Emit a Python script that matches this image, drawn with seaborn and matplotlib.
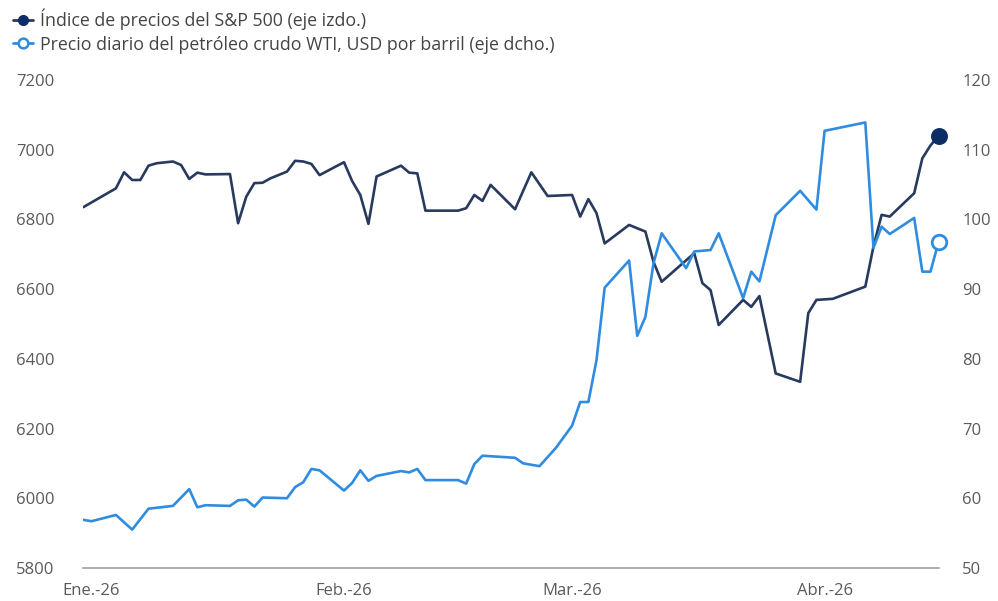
import pandas as pd
import seaborn as sns
import matplotlib.pyplot as plt
from matplotlib.lines import Line2D

# S&P 500 (eje izquierdo)
sp_fechas = [
    "2025-12-31", "2026-01-04", "2026-01-05", "2026-01-06", "2026-01-07", "2026-01-08",
    "2026-01-09", "2026-01-11", "2026-01-12", "2026-01-13", "2026-01-14", "2026-01-15",
    "2026-01-18", "2026-01-19", "2026-01-20", "2026-01-21", "2026-01-22", "2026-01-23",
    "2026-01-25", "2026-01-26", "2026-01-27", "2026-01-28", "2026-01-29", "2026-02-01",
    "2026-02-02", "2026-02-03", "2026-02-04", "2026-02-05", "2026-02-08", "2026-02-09",
    "2026-02-10", "2026-02-11", "2026-02-15", "2026-02-16", "2026-02-17", "2026-02-18",
    "2026-02-19", "2026-02-22", "2026-02-24", "2026-02-26", "2026-03-01", "2026-03-02",
    "2026-03-03", "2026-03-04", "2026-03-05", "2026-03-08", "2026-03-10", "2026-03-11",
    "2026-03-12", "2026-03-16", "2026-03-17", "2026-03-18", "2026-03-19", "2026-03-22",
    "2026-03-23", "2026-03-24", "2026-03-26", "2026-03-29", "2026-03-30", "2026-03-31",
    "2026-04-02", "2026-04-06", "2026-04-07", "2026-04-08", "2026-04-09", "2026-04-12",
    "2026-04-13", "2026-04-14", "2026-04-15",
]
sp_valores = [
    6835, 6889, 6935, 6913, 6913, 6954,
    6961, 6966, 6956, 6916, 6934, 6929,
    6930, 6789, 6865, 6904, 6905, 6918,
    6937, 6968, 6966, 6959, 6927, 6964,
    6910, 6870, 6787, 6923, 6954, 6934,
    6932, 6825, 6825, 6832, 6870, 6853,
    6899, 6829, 6935, 6867, 6870, 6808,
    6858, 6818, 6731, 6784, 6765, 6678,
    6621, 6703, 6617, 6597, 6497, 6569,
    6549, 6580, 6358, 6334, 6531, 6569,
    6572, 6607, 6722, 6813, 6808, 6875,
    6975, 7012, 7040,
]

# petróleo WTI (eje derecho)
wti_fechas = [
    "2025-12-31", "2026-01-01", "2026-01-04", "2026-01-06", "2026-01-08", "2026-01-11",
    "2026-01-13", "2026-01-14", "2026-01-15", "2026-01-18", "2026-01-19", "2026-01-20",
    "2026-01-21", "2026-01-22", "2026-01-25", "2026-01-26", "2026-01-27", "2026-01-28",
    "2026-01-29", "2026-02-01", "2026-02-02", "2026-02-03", "2026-02-04", "2026-02-05",
    "2026-02-08", "2026-02-09", "2026-02-10", "2026-02-11", "2026-02-15", "2026-02-16",
    "2026-02-17", "2026-02-18", "2026-02-22", "2026-02-23", "2026-02-25", "2026-02-27",
    "2026-03-01", "2026-03-02", "2026-03-03", "2026-03-04", "2026-03-05", "2026-03-08",
    "2026-03-09", "2026-03-10", "2026-03-11", "2026-03-12", "2026-03-15", "2026-03-16",
    "2026-03-18", "2026-03-19", "2026-03-22", "2026-03-23", "2026-03-24", "2026-03-26",
    "2026-03-29", "2026-03-31", "2026-04-01", "2026-04-06", "2026-04-07", "2026-04-08",
    "2026-04-09", "2026-04-12", "2026-04-13", "2026-04-14", "2026-04-15",
]
wti_valores = [
    56.9, 56.7, 57.6, 55.5, 58.5, 58.9,
    61.3, 58.7, 59.0, 58.9, 59.7, 59.8,
    58.8, 60.1, 60.0, 61.6, 62.3, 64.2,
    64.0, 61.1, 62.2, 64.0, 62.5, 63.2,
    63.9, 63.7, 64.2, 62.6, 62.6, 62.1,
    64.9, 66.1, 65.8, 65.0, 64.6, 67.2,
    70.4, 73.8, 73.8, 79.8, 90.2, 94.1,
    83.3, 86.0, 93.7, 98.0, 93.0, 95.4,
    95.6, 98.0, 88.7, 92.5, 91.1, 100.6,
    104.1, 101.4, 112.7, 113.9, 95.9, 98.95,
    97.9, 100.2, 92.5, 92.5, 96.8,
]

meses = ["2026-01-01", "2026-02-01", "2026-03-01", "2026-04-01"]
etiquetas_meses = ["Ene.-26", "Feb.-26", "Mar.-26", "Abr.-26"]

nombre_sp = "Índice de precios del S&P 500 (eje izdo.)"
nombre_wti = "Precio diario del petróleo crudo WTI, USD por barril (eje dcho.)"

color_sp = "#283a5d"
color_sp_punto = "#0c2d66"
color_wti = "#2f8ce0"
gris = "#5a5a5a"

sns.set_style("white")
plt.rcParams["font.family"] = ["Open Sans", "DejaVu Sans"]
plt.rcParams["font.size"] = 12

df_sp = pd.DataFrame({"fecha": pd.to_datetime(sp_fechas), "valor": sp_valores})
df_wti = pd.DataFrame({"fecha": pd.to_datetime(wti_fechas), "valor": wti_valores})

fig = plt.figure(figsize=(9.98, 6.01), dpi=100)
ax = fig.add_axes([0.0835, 0.055, 0.857, 0.812])
ax2 = ax.twinx()

sns.lineplot(data=df_sp, x="fecha", y="valor", ax=ax, color=color_sp, linewidth=1.9)
sns.lineplot(data=df_wti, x="fecha", y="valor", ax=ax2, color=color_wti, linewidth=1.9)

# puntos al final de cada serie
ax.scatter(df_sp["fecha"].iloc[-1], df_sp["valor"].iloc[-1], s=125,
           color=color_sp_punto, zorder=5, clip_on=False)
ax2.scatter(df_wti["fecha"].iloc[-1], df_wti["valor"].iloc[-1], s=110,
            facecolor="white", edgecolor=color_wti, linewidth=2, zorder=5, clip_on=False)

ax.set_xlim(pd.Timestamp("2025-12-31"), pd.Timestamp("2026-04-15"))
ax.set_ylim(5800, 7200)
ax2.set_ylim(50, 120)
ax.set_yticks(range(5800, 7201, 200))
ax2.set_yticks(range(50, 121, 10))
ax.set_xticks(pd.to_datetime(meses))
ax.set_xticklabels(etiquetas_meses)

ax.set_xlabel("")
ax.set_ylabel("")
ax2.set_ylabel("")

for a in (ax, ax2):
    for lado in ("top", "left", "right", "bottom"):
        a.spines[lado].set_visible(False)
ax.spines["bottom"].set_visible(True)
ax.spines["bottom"].set_color("#a0a0a0")
ax.spines["bottom"].set_linewidth(1.2)

ax.tick_params(axis="x", length=0, pad=11, colors=gris, labelsize=12)
ax.tick_params(axis="y", length=0, pad=21, colors=gris, labelsize=12)
ax2.tick_params(axis="y", length=0, pad=17, colors=gris, labelsize=12)
ax.grid(False)
ax2.grid(False)

handles = [
    Line2D([0], [0], color=color_sp, lw=2, marker="o", markersize=7,
           markerfacecolor=color_sp_punto, markeredgecolor=color_sp_punto),
    Line2D([0], [0], color=color_wti, lw=2, marker="o", markersize=7,
           markerfacecolor="white", markeredgecolor=color_wti, markeredgewidth=1.8),
]
fig.legend(handles, [nombre_sp, nombre_wti], loc="upper left",
           bbox_to_anchor=(-0.003, 1.012), frameon=False, handlelength=1.15,
           handletextpad=0.35, labelspacing=0.3, fontsize=12.8,
           labelcolor="#444444")

plt.savefig("out.png", dpi=100)
plt.close()
